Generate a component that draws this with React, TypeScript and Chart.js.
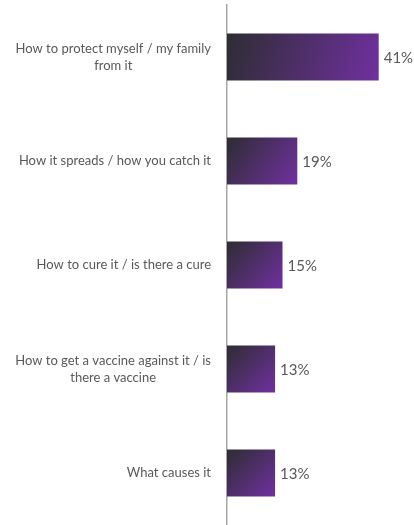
import React, { useEffect, useRef } from "react";
import { Chart, registerables } from "chart.js";

Chart.register(...registerables);

const categories: string[][] = [
  ["How to protect myself / my family", "from it"],
  ["How it spreads / how you catch it"],
  ["How to cure it / is there a cure"],
  ["How to get a vaccine against it / is", "there a vaccine"],
  ["What causes it"],
];
const values: number[] = [41, 19, 15, 13, 13];
const valueLabels: string[] = ["41%", "19%", "15%", "13%", "13%"];

const DARK = "#2e2d33";
const PURPLE = "#7030a0";
const TEXT = "#595959";
const FONT = "Lato, 'Open Sans', sans-serif";
const BAR_PCT = 0.9;
const CAT_PCT = 0.5;

function barGradient(context: any) {
  const chart = context.chart;
  if (context.type !== "data" || !chart.chartArea) return PURPLE;
  const xs = chart.scales.x;
  const ys = chart.scales.y;
  const c = chart.ctx;
  const v = values[context.dataIndex];
  const x0 = xs.getPixelForValue(0);
  const x1 = xs.getPixelForValue(v);
  const band = (ys.bottom - ys.top) / categories.length;
  const h = band * BAR_PCT * CAT_PCT;
  const yc = ys.getPixelForValue(context.dataIndex);
  const left = Math.min(x0, x1);
  const w = Math.abs(x1 - x0);
  const top = yc - h / 2;
  const g = c.createLinearGradient(left, top, left + w, top + h);
  g.addColorStop(0, DARK);
  g.addColorStop(1, PURPLE);
  return g;
}

const labelPlugin = {
  id: "customLabels",
  afterDatasetsDraw(chart: any) {
    const ctx = chart.ctx;
    const yScale = chart.scales.y;
    const meta = chart.getDatasetMeta(0);
    ctx.save();
    ctx.fillStyle = TEXT;
    ctx.textBaseline = "middle";
    ctx.font = `13px ${FONT}`;
    const lineH = 17;
    const rightEdge = chart.chartArea.left - 16;
    categories.forEach((lines, i) => {
      const yc = yScale.getPixelForValue(i);
      const widths = lines.map((l) => ctx.measureText(l).width);
      const blockW = Math.max(...widths);
      const cx = rightEdge - blockW / 2;
      ctx.textAlign = "center";
      lines.forEach((l, j) => {
        const ly = yc + (j - (lines.length - 1) / 2) * lineH;
        ctx.fillText(l, cx, ly);
      });
    });
    ctx.font = `15px ${FONT}`;
    ctx.textAlign = "left";
    meta.data.forEach((bar: any, i: number) => {
      const { x, y } = bar.getProps(["x", "y"], true);
      ctx.fillText(valueLabels[i], x + 5, y + 1);
    });
    ctx.restore();
  },
};

export default function App() {
  const ref = useRef<HTMLCanvasElement | null>(null);
  useEffect(() => {
    if (!ref.current) return;
    const chart = new Chart(ref.current, {
      type: "bar",
      data: {
        labels: categories as any,
        datasets: [
          {
            data: values,
            backgroundColor: barGradient,
            borderWidth: 0,
            barPercentage: BAR_PCT,
            categoryPercentage: CAT_PCT,
          },
        ],
      },
      options: {
        indexAxis: "y",
        responsive: false,
        animation: false,
        layout: { padding: { top: 5, bottom: 0, left: 0, right: 2 } },
        plugins: { legend: { display: false }, tooltip: { enabled: false } },
        scales: {
          x: {
            display: false,
            min: 0,
            max: 50,
          },
          y: {
            afterFit(scale: any) {
              scale.width = 227;
            },
            grid: { display: false, drawTicks: false },
            border: { display: true, color: "#a6a6a6", width: 1.5 },
            ticks: { display: false },
          },
        },
      },
      plugins: [labelPlugin],
    });
    return () => chart.destroy();
  }, []);
  return (
    <div style={{ position: "absolute", left: 0, top: 0, width: 414, height: 525, background: "#fff" }}>
      <canvas ref={ref} width={414} height={525} />
    </div>
  );
}
